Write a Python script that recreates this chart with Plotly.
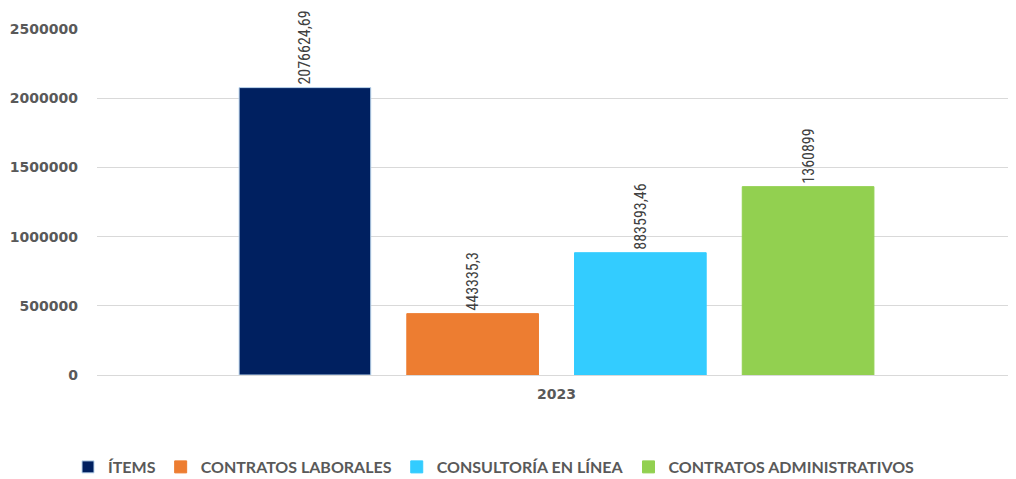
import plotly.graph_objects as go

categories = ["2023"]
series_names = ["ÍTEMS", "CONTRATOS LABORALES", "CONSULTORÍA EN LÍNEA", "CONTRATOS ADMINISTRATIVOS"]
series_values = [2076624.69, 443335.3, 883593.46, 1360899]
series_labels = ["2076624,69", "443335,3", "883593,46", "1360899"]
series_colors = ["#002060", "#ED7D31", "#33CCFF", "#92D050"]
y_ticks = [0, 500000, 1000000, 1500000, 2000000, 2500000]

narrow = "Liberation Sans Narrow, Arial Narrow, Roboto Condensed, Liberation Sans, sans-serif"

fig = go.Figure()
for name, val, lab, col in zip(series_names, series_values, series_labels, series_colors):
    fig.add_trace(go.Bar(
        x=categories, y=[val], name=name,
        marker=dict(color=col, line=dict(color="#BDD7EE" if name == "ÍTEMS" else col, width=1)),
        text=[lab + "\u00a0"], textposition="outside", textangle=-90,
        textfont=dict(family=narrow, size=16, color="#404040"),
        cliponaxis=False,
    ))

# page body has an 8px margin: figure sized/margined to compensate
fig.update_layout(
    width=1008, height=471,
    margin=dict(l=89, r=0, t=21, b=104, autoexpand=False),
    paper_bgcolor="white", plot_bgcolor="white",
    barmode="group", bargap=0.27, bargroupgap=0.215,
    showlegend=True,
    legend=dict(orientation="h", x=0.432, xanchor="center",
                yref="container", y=0.0255, yanchor="middle",
                font=dict(family="Lato", size=16, color="#595959", weight="bold"),
                itemwidth=30, traceorder="normal"),
    xaxis=dict(showgrid=False, showline=True, linecolor="#d9d9d9", linewidth=1,
               ticks="", tickfont=dict(family="DejaVu Sans", size=14, color="#595959", weight="bold"),
               ticklabelstandoff=6),
    yaxis=dict(range=[0, 2500000], tickvals=y_ticks, tickmode="array",
               tickformat="d", showgrid=True, gridcolor="#d9d9d9", gridwidth=1,
               zeroline=False, showline=False, ticks="",
               tickfont=dict(family="DejaVu Sans", size=14, color="#595959", weight="bold"),
               ticklabelstandoff=18),
    font=dict(family="DejaVu Sans"),
)

fig.write_html("out.html")
